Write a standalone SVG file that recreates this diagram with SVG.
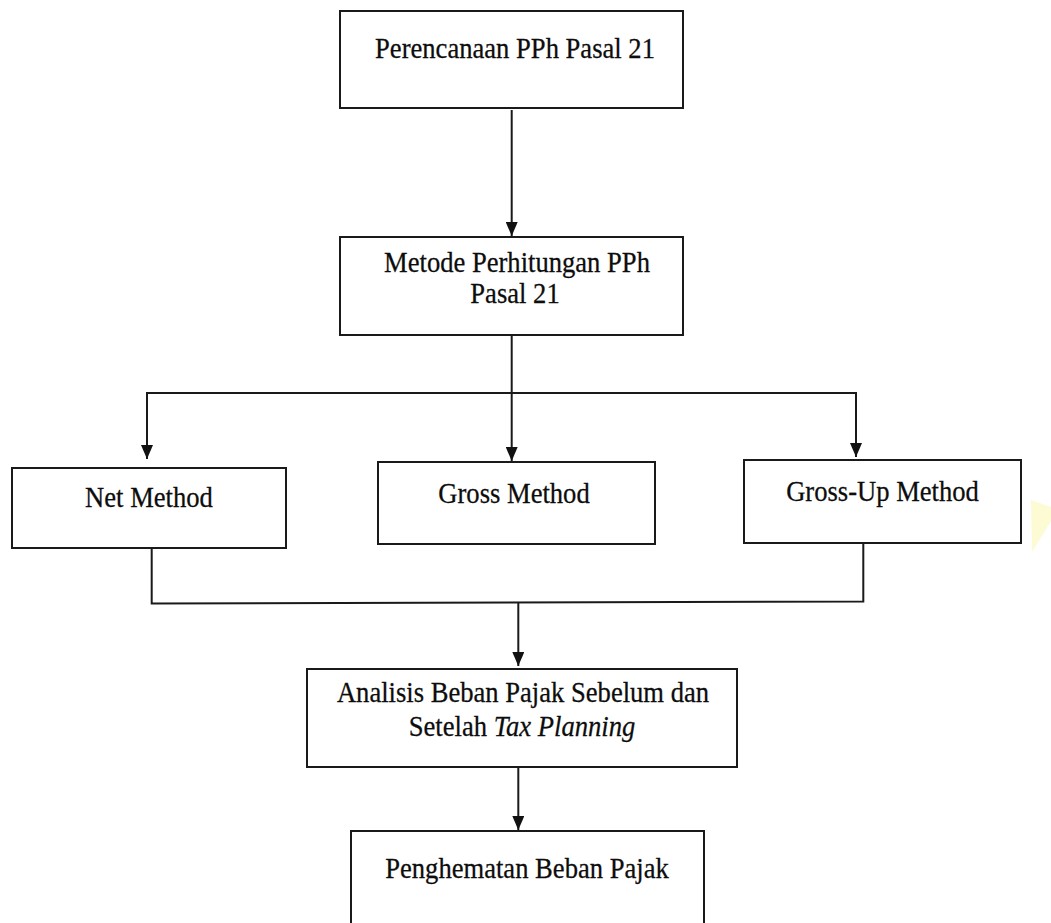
<svg xmlns="http://www.w3.org/2000/svg" width="1051" height="923" viewBox="0 0 1051 923">
<style>
.box{fill:#fff;stroke:#1a1a1a;stroke-width:2}
.ln{fill:none;stroke:#1a1a1a;stroke-width:2}
.t{font-family:"Liberation Serif","Times New Roman",serif;font-size:26.6px;fill:#0d0d0d;stroke:#0d0d0d;stroke-width:0.25;text-anchor:middle}
.i{font-style:italic}
</style>
<defs>
<marker id="ah" markerUnits="userSpaceOnUse" viewBox="0 0 14 12" refX="14" refY="6" markerWidth="14" markerHeight="12" orient="auto">
<path d="M0,0 L14,6 L0,12 z" fill="#111"/>
</marker>
</defs>
<rect width="1051" height="923" fill="#fff"/>
<polygon points="1031,500 1051,507 1051,521 1032,552" fill="#fdfbd3"/>
<g id="connectors">
<line class="ln" x1="511.7" y1="110" x2="511.7" y2="236" marker-end="url(#ah)"/>
<line class="ln" x1="511.7" y1="335" x2="511.7" y2="393"/>
<line class="ln" x1="146" y1="393" x2="857" y2="393"/>
<line class="ln" x1="147" y1="393" x2="147" y2="459" marker-end="url(#ah)"/>
<line class="ln" x1="511.7" y1="393" x2="511.7" y2="461" marker-end="url(#ah)"/>
<line class="ln" x1="856" y1="393" x2="856" y2="457" marker-end="url(#ah)"/>
<polyline class="ln" points="151.7,548 151.7,603.5 863.3,601.5 863.3,543"/>
<line class="ln" x1="518.3" y1="603" x2="518.3" y2="666" marker-end="url(#ah)"/>
<line class="ln" x1="518.3" y1="767" x2="518.3" y2="830" marker-end="url(#ah)"/>
</g>
<g id="n1"><rect class="box" x="340" y="11" width="343" height="97"/><text class="t" transform="translate(515,58) scale(1,1.08)">Perencanaan PPh Pasal 21</text></g>
<g id="n2"><rect class="box" x="340" y="237" width="343" height="98"/><text class="t" transform="translate(517,272) scale(1,1.08)">Metode Perhitungan PPh</text><text class="t" transform="translate(515,303) scale(1,1.08)">Pasal 21</text></g>
<g id="n3"><rect class="box" x="12" y="468" width="274" height="80"/><text class="t" transform="translate(149,507) scale(1,1.08)">Net Method</text></g>
<g id="n4"><rect class="box" x="378" y="462" width="277" height="82"/><text class="t" transform="translate(514,503) scale(1,1.08)">Gross Method</text></g>
<g id="n5"><rect class="box" x="744" y="460" width="277" height="83"/><text class="t" transform="translate(882.5,501) scale(1,1.08)">Gross-Up Method</text></g>
<g id="n6"><rect class="box" x="307" y="669" width="430" height="98"/><text class="t" transform="translate(523,702) scale(1,1.08)">Analisis Beban Pajak Sebelum dan</text><text class="t" transform="translate(522,736) scale(1,1.08)">Setelah <tspan class="i">Tax Planning</tspan></text></g>
<g id="n7"><rect class="box" x="351" y="831" width="353" height="110"/><text class="t" transform="translate(527,878) scale(1,1.08)">Penghematan Beban Pajak</text></g>
</svg>
